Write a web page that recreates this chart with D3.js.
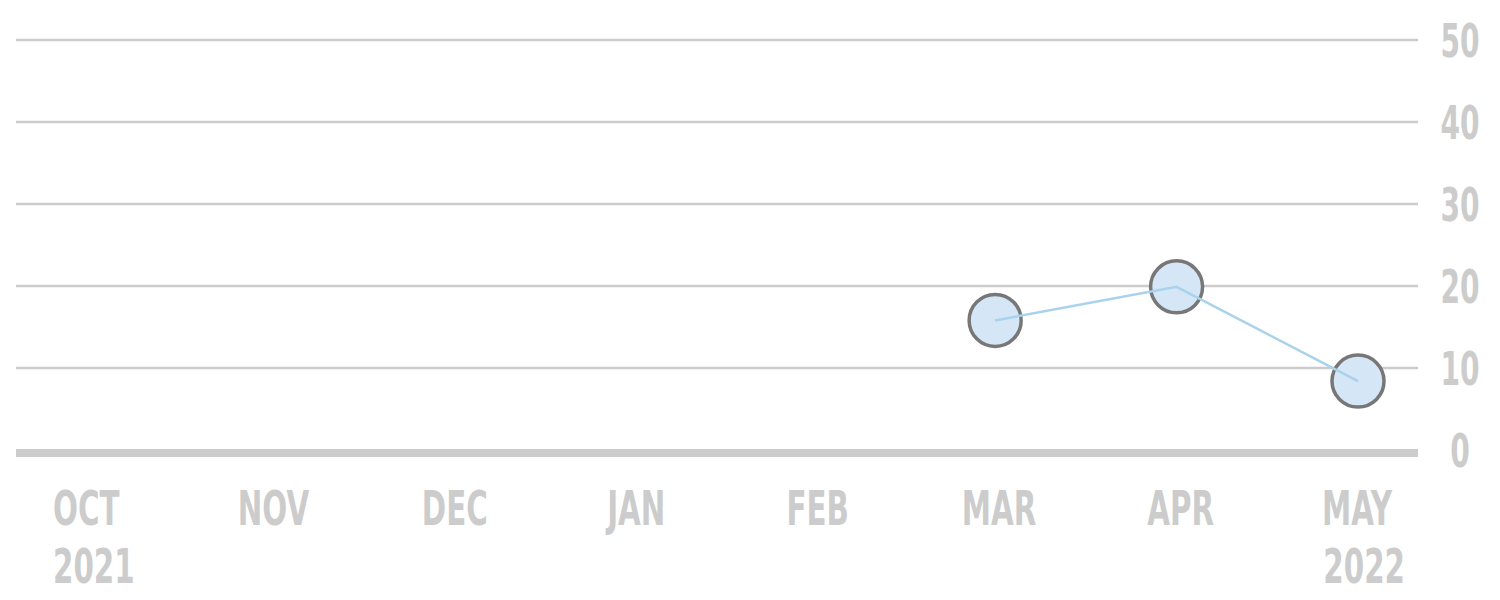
<!DOCTYPE html>
<html><head><meta charset="utf-8">
<script src="https://cdn.jsdelivr.net/npm/d3@7"></script>
<style>body{margin:0;background:#fff}text{font-family:"DejaVu Sans Condensed","DejaVu Sans",sans-serif;font-weight:bold;fill:#cccccc}</style>
</head><body><svg id="c" width="1500" height="600"></svg>
<script>
const months = ["OCT","NOV","DEC","JAN","FEB","MAR","APR","MAY"];
const yearLabels = {"OCT":"2021","MAY":"2022"};
const dataMonths = ["MAR","APR","MAY"];
const dataValues = [15.8, 19.9, 8.4];
const yTicks = [0,10,20,30,40,50];

const svg = d3.select("#c");
const x = d3.scalePoint().domain(months).range([92, 1362]);
const y = d3.scaleLinear().domain([0,50]).range([450, 40]);
const sx = 0.68;

svg.append("g").selectAll("line").data(yTicks.filter(d=>d>0)).join("line")
  .attr("x1",16).attr("x2",1418).attr("y1",d=>y(d)).attr("y2",d=>y(d))
  .attr("stroke","#cccccc").attr("stroke-width",2.5);
svg.append("line").attr("x1",16).attr("x2",1418).attr("y1",y(0)+3).attr("y2",y(0)+3)
  .attr("stroke","#cccccc").attr("stroke-width",8);

svg.append("g").selectAll("text").data(yTicks).join("text")
  .attr("transform",d=>`translate(1460,${y(d)+17}) scale(${sx},1)`).attr("text-anchor","middle")
  .attr("font-size",46).text(d=>d);

const ml = svg.append("g").selectAll("g").data(months).join("g");
const anchor = d=>d==="OCT"?"start":d==="MAY"?"end":"middle";
const dx = d=>d==="OCT"?-39:d==="MAY"?30:0;
ml.append("text").attr("transform",d=>`translate(${x(d)+dx(d)},525) scale(${sx},1)`).attr("font-size",48)
  .attr("text-anchor",anchor).text(d=>d);
ml.filter(d=>yearLabels[d]).append("text")
  .attr("transform",d=>`translate(${x(d)+(d==="OCT"?-39:43)},583) scale(${sx},1)`).attr("font-size",48)
  .attr("text-anchor",anchor).text(d=>yearLabels[d]);

const pts = dataMonths.map((m,i)=>({m, v:dataValues[i]}));
svg.append("g").selectAll("circle").data(pts).join("circle")
  .attr("cx",d=>x(d.m)-4).attr("cy",d=>y(d.v)).attr("r",26)
  .attr("fill","#d5e7f6").attr("stroke","#777777").attr("stroke-width",3.5);
svg.append("path").datum(pts)
  .attr("d", d3.line().x(d=>x(d.m)-4).y(d=>y(d.v)))
  .attr("fill","none").attr("stroke","#a9d2ec").attr("stroke-width",2.5);
</script></body></html>
